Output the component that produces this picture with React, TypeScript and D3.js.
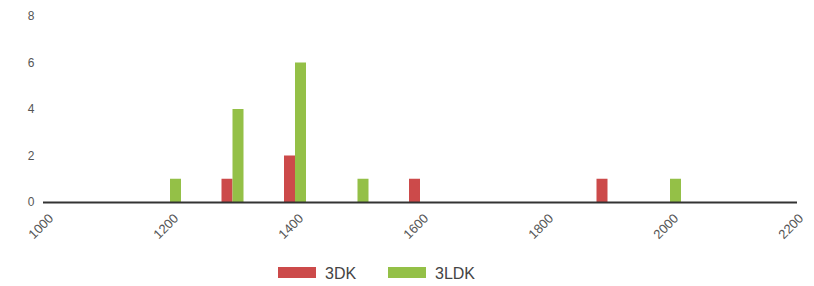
import { useEffect, useRef } from 'react';
import * as d3 from 'd3';

const SERIES = ['3DK', '3LDK'];
const COLORS = ['#cc4a4a', '#94c047'];
const PRICES_3DK = [1300, 1400, 1600, 1900];
const COUNTS_3DK = [1, 2, 1, 1];
const PRICES_3LDK = [1200, 1300, 1400, 1500, 2000];
const COUNTS_3LDK = [1, 4, 6, 1, 1];
const X_TICKS = [1000, 1200, 1400, 1600, 1800, 2000, 2200];
const Y_TICKS = [0, 2, 4, 6, 8];

const WIDTH = 814;
const HEIGHT = 286;
const BAR_W = 11;

export default function App() {
  const ref = useRef<SVGSVGElement>(null);

  useEffect(() => {
    if (!ref.current) return;
    const svg = d3.select(ref.current);
    svg.selectAll('*').remove();

    const x = d3.scaleLinear().domain([1000, 2200]).range([45, 795]);
    const y = d3.scaleLinear().domain([0, 8]).range([202, 16]);

    // y labels, no axis line
    svg
      .append('g')
      .selectAll('text')
      .data(Y_TICKS)
      .join('text')
      .attr('x', 31)
      .attr('y', d => y(d))
      .attr('dy', '0.35em')
      .attr('text-anchor', 'middle')
      .attr('fill', '#555')
      .style('font-size', '12px')
      .text(d => d);

    const bars = [
      { name: SERIES[0], color: COLORS[0], prices: PRICES_3DK, counts: COUNTS_3DK, offset: -BAR_W },
      { name: SERIES[1], color: COLORS[1], prices: PRICES_3LDK, counts: COUNTS_3LDK, offset: 0 },
    ];

    bars.forEach(s => {
      svg
        .append('g')
        .selectAll('rect')
        .data(s.prices.map((p, i) => ({ p, c: s.counts[i] })))
        .join('rect')
        .attr('x', d => x(d.p) + s.offset)
        .attr('y', d => y(d.c))
        .attr('width', BAR_W)
        .attr('height', d => y(0) - y(d.c))
        .attr('fill', s.color);
    });

    // x axis
    svg
      .append('line')
      .attr('x1', x(1000) - 2)
      .attr('x2', x(2200) + 2)
      .attr('y1', y(0) + 0.5)
      .attr('y2', y(0) + 0.5)
      .attr('stroke', '#333')
      .attr('stroke-width', 2);

    svg
      .append('g')
      .selectAll('text')
      .data(X_TICKS)
      .join('text')
      .attr('text-anchor', 'end')
      .attr('transform', d => `translate(${x(d) + 6},${y(0) + 14}) rotate(-45)`)
      .attr('dy', '0.35em')
      .attr('fill', '#555')
      .style('font-size', '13px')
      .text(d => d);

    // legend
    const legend = svg.append('g').attr('transform', 'translate(278,267)');
    const legendX = [0, 110];
    SERIES.forEach((name, i) => {
      const g = legend.append('g').attr('transform', `translate(${legendX[i]},0)`);
      g.append('rect').attr('width', 38).attr('height', 11).attr('fill', COLORS[i]);
      g.append('text')
        .attr('x', 47)
        .attr('y', 6)
        .attr('dy', '0.35em')
        .attr('fill', '#444')
        .style('font-size', '16px')
        .text(name);
    });
  }, []);

  return (
    <svg
      ref={ref}
      width={WIDTH}
      height={HEIGHT}
      style={{ position: 'absolute', left: 0, top: 0, fontFamily: '"Liberation Sans", Arial, sans-serif', background: '#fff' }}
    />
  );
}
